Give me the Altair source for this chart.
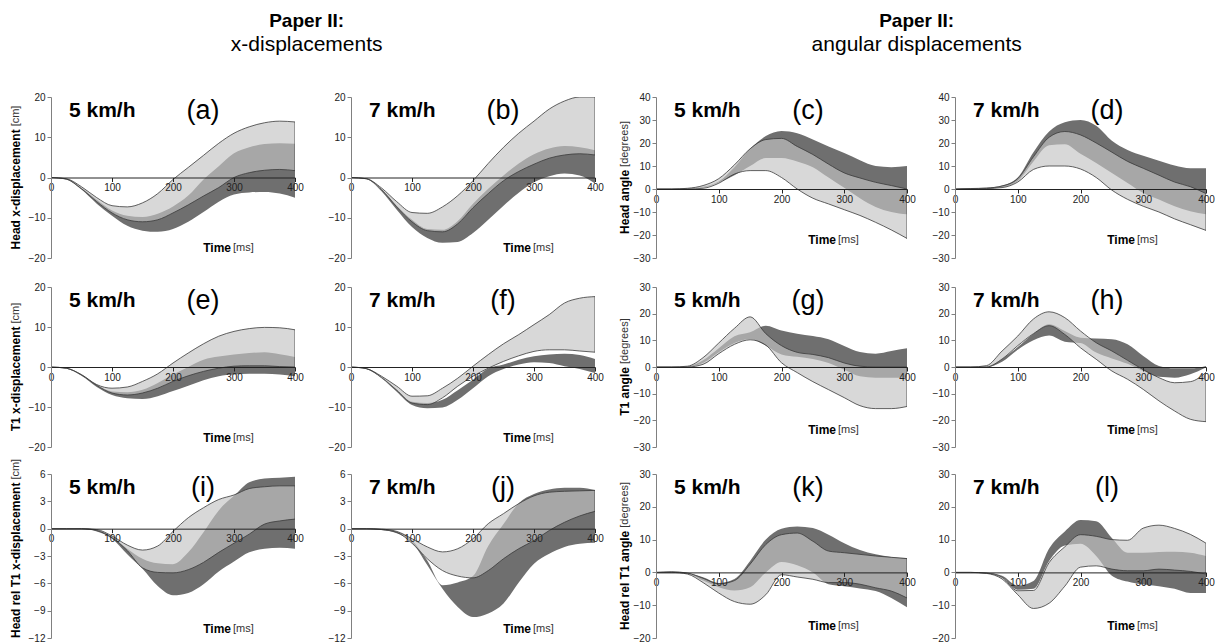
import altair as alt
import pandas as pd

FONT = "Liberation Sans"
DARK = "#6f6f6f"
LIGHT = "#c4c4c4"
EDGE = "#3a3a3a"

TIME = [0, 25, 50, 75, 100, 125, 150, 175, 200, 225, 250, 275, 300, 325, 350, 375, 400]
X_TICKS = [0, 100, 200, 300, 400]
TICKS_CM = [-20, -10, 0, 10, 20]
TICKS_REL_CM = [-12, -9, -6, -3, 0, 3, 6]
TICKS_DEG_1 = [-30, -20, -10, 0, 10, 20, 30, 40]
TICKS_DEG_2 = [-30, -20, -10, 0, 10, 20, 30]
TICKS_DEG_3 = [-20, -10, 0, 10, 20, 30]

SPEEDS = ["5 km/h", "7 km/h"]
TAGS = ["(a)", "(b)", "(c)", "(d)", "(e)", "(f)", "(g)", "(h)", "(i)", "(j)", "(k)", "(l)"]
HEAD_TITLES = ["Paper II:", "Paper II:"]
SUB_TITLES = ["x-displacements", "angular displacements"]
Y_TITLES_BOLD = ["Head x-displacement", "T1 x-displacement", "Head rel T1 x-displacement",
                 "Head angle", "T1 angle", "Head rel T1 angle"]
Y_TITLES_UNIT = ["[cm]", "[cm]", "[cm]", "[degrees]", "[degrees]", "[degrees]"]
TIME_BOLD = "Time"
TIME_UNIT = "[ms]"

# (a) Head x, 5 km/h
LIGHT_HI_A = [0, -0.3, -2.3, -5.0, -7.0, -7.3, -6.3, -4.0, -0.5, 2.5, 5.5, 8.5, 11.0, 12.6, 13.6, 14.0, 13.8]
LIGHT_LO_A = [0, -0.4, -2.8, -6.0, -8.8, -10.5, -11.0, -10.5, -8.8, -6.8, -4.6, -2.5, 0.0, 1.2, 1.8, 2.0, 1.7]
DARK_HI_A = [0, -0.4, -2.6, -5.5, -8.2, -9.5, -9.8, -9.0, -7.2, -4.5, -0.5, 2.8, 6.0, 7.5, 8.3, 8.5, 8.4]
DARK_LO_A = [0, -0.5, -3.0, -6.5, -9.5, -12.0, -13.2, -13.5, -12.8, -11.0, -8.6, -6.0, -4.2, -3.7, -3.6, -4.0, -5.0]
# (b) Head x, 7 km/h
LIGHT_HI_B = [0, -0.3, -2.6, -6.0, -8.7, -8.9, -7.3, -4.5, -0.8, 3.5, 7.5, 11.0, 14.0, 17.0, 19.0, 20.0, 20.0]
LIGHT_LO_B = [0, -0.3, -3.0, -7.3, -11.0, -13.2, -13.5, -11.5, -7.5, -4.0, -0.8, 1.5, 3.3, 4.8, 5.6, 5.9, 5.6]
DARK_HI_B = [0, -0.3, -3.0, -7.0, -10.5, -12.8, -13.0, -10.8, -6.5, -2.8, 0.5, 3.5, 5.8, 7.2, 7.8, 7.5, 6.8]
DARK_LO_B = [0, -0.4, -3.4, -8.0, -12.3, -15.0, -16.2, -16.0, -13.8, -10.5, -7.0, -3.8, -1.2, 0.3, 1.0, 0.5, -1.5]
# (c) Head angle, 5 km/h
LIGHT_HI_C = [0, 0, 0.3, 1.5, 4.5, 10.5, 17.5, 21.5, 22.0, 18.5, 15.0, 10.8, 7.0, 4.8, 2.9, 1.5, 0.0]
LIGHT_LO_C = [0, 0, 0, 0.3, 2.5, 6.5, 8.0, 8.0, 5.0, 0.0, -4.0, -6.5, -9.0, -11.5, -14.5, -17.8, -21.5]
DARK_HI_C = [0, 0, 0.2, 1.0, 3.3, 9.5, 17.5, 23.0, 25.2, 24.2, 21.5, 18.5, 15.6, 12.5, 10.0, 9.5, 10.0]
DARK_LO_C = [0, 0, 0.1, 0.6, 2.8, 6.0, 10.0, 13.5, 13.5, 12.0, 9.5, 5.0, 0.5, -4.0, -7.8, -10.0, -11.0]
# (d) Head angle, 7 km/h
LIGHT_HI_D = [0, 0.2, 0.4, 1.3, 4.5, 14.0, 22.5, 25.0, 23.5, 20.0, 16.0, 12.0, 9.0, 6.0, 3.0, 1.0, -2.0]
LIGHT_LO_D = [0, 0, 0.2, 0.6, 3.0, 8.5, 10.0, 10.0, 8.7, 5.0, -0.5, -4.5, -7.5, -10.0, -13.0, -15.5, -18.0]
DARK_HI_D = [0, 0.3, 0.5, 1.5, 5.0, 16.0, 25.0, 29.0, 30.0, 27.5, 21.0, 17.0, 14.5, 12.3, 10.2, 9.0, 9.0]
DARK_LO_D = [0, 0, 0.2, 0.8, 3.5, 12.0, 19.0, 19.5, 15.3, 11.3, 7.0, 2.6, -1.7, -4.6, -7.5, -9.7, -11.0]
# (e) T1 x, 5 km/h
LIGHT_HI_E = [0, -0.3, -1.9, -4.4, -5.3, -5.0, -3.6, -1.7, 1.0, 3.5, 5.8, 7.7, 8.9, 9.6, 9.9, 9.8, 9.3]
LIGHT_LO_E = [0, -0.3, -2.0, -4.6, -6.5, -7.0, -6.5, -5.3, -3.6, -2.2, -1.1, -0.3, 0.2, 0.3, 0.3, 0.1, 0.0]
DARK_HI_E = [0, -0.3, -2.0, -4.5, -6.1, -6.3, -5.7, -4.0, -1.9, 0.0, 1.8, 2.6, 3.1, 3.5, 3.7, 3.2, 2.5]
DARK_LO_E = [0, -0.4, -2.2, -5.0, -7.0, -7.8, -8.0, -7.3, -6.0, -4.7, -3.3, -2.3, -1.9, -1.7, -1.7, -1.9, -2.3]
# (f) T1 x, 7 km/h
LIGHT_HI_F = [0, -0.4, -2.3, -4.8, -7.3, -7.2, -5.3, -2.8, 0.2, 3.1, 5.8, 8.1, 10.6, 13.1, 16.0, 17.2, 17.6]
LIGHT_LO_F = [0, -0.4, -2.6, -5.8, -9.0, -9.4, -7.7, -4.8, -2.3, -0.3, 1.4, 2.8, 3.9, 4.3, 4.3, 4.0, 3.7]
DARK_HI_F = [0, -0.4, -2.6, -5.7, -8.7, -9.0, -8.2, -5.8, -3.2, -0.4, 0.6, 1.8, 2.7, 3.1, 3.3, 3.0, 2.0]
DARK_LO_F = [0, -0.5, -2.8, -6.2, -9.5, -10.3, -10.1, -8.2, -5.3, -2.3, -0.5, 0.6, 1.2, 1.0, 0.2, -0.5, -1.5]
# (g) T1 angle, 5 km/h
LIGHT_HI_G = [0, 0, 0.3, 3.5, 9.0, 14.5, 18.8, 12.5, 8.0, 5.5, 4.7, 3.5, 1.5, 0.3, 0.0, 0.0, 0.0]
LIGHT_LO_G = [0, 0, 0, 1.0, 5.0, 8.5, 10.2, 8.2, 1.6, -2.1, -5.5, -8.5, -11.5, -14.5, -15.6, -15.6, -14.8]
DARK_HI_G = [0, 0, 0.2, 2.5, 7.0, 11.5, 13.0, 15.5, 13.7, 12.5, 11.6, 10.4, 7.9, 5.6, 5.0, 6.0, 7.0]
DARK_LO_G = [0, 0, 0.1, 1.5, 5.5, 9.0, 10.5, 8.0, 4.7, 3.8, 3.0, 1.5, -1.0, -3.5, -4.0, -4.0, -4.0]
# (h) T1 angle, 7 km/h
LIGHT_HI_H = [0, 0, 0.5, 6.0, 11.6, 18.0, 20.7, 18.5, 13.5, 9.1, 6.0, 2.5, -1.0, -4.0, -5.9, -5.5, -2.0]
LIGHT_LO_H = [0, 0, 0, 3.0, 8.0, 12.5, 15.5, 12.2, 7.2, 2.9, -1.5, -4.6, -8.4, -12.7, -16.5, -19.6, -20.5]
DARK_HI_H = [0, 0, 0.2, 3.0, 7.5, 12.5, 16.0, 13.5, 11.0, 10.7, 10.4, 8.5, 4.1, 0.4, -0.5, -0.5, 0.4]
DARK_LO_H = [0, 0, 0, 2.0, 6.5, 10.0, 11.8, 9.5, 9.0, 5.4, 3.2, 1.2, -1.5, -3.7, -4.0, -2.7, -0.2]
# (i) Head rel T1 x, 5 km/h
LIGHT_HI_I = [0, 0, 0, -0.1, -0.8, -1.8, -2.35, -1.9, -0.3, 1.2, 2.3, 3.2, 3.7, 4.4, 4.6, 4.7, 4.7]
LIGHT_LO_I = [0, 0, 0, -0.2, -1.0, -2.4, -4.3, -4.8, -4.85, -4.5, -3.7, -2.6, -1.6, -0.6, 0.5, 0.85, 1.05]
DARK_HI_I = [0, 0, 0, -0.15, -0.9, -2.2, -3.3, -3.8, -3.9, -2.6, -0.4, 2.0, 3.6, 5.1, 5.5, 5.6, 5.7]
DARK_LO_I = [0, 0, -0.05, -0.3, -1.1, -2.8, -4.4, -6.3, -7.3, -7.05, -6.1, -4.7, -3.6, -2.6, -2.2, -2.1, -2.2]
# (j) Head rel T1 x, 7 km/h
LIGHT_HI_J = [0, 0, -0.05, -0.3, -1.1, -2.0, -2.55, -2.2, -1.1, 0.55, 1.65, 2.75, 3.6, 4.0, 4.1, 4.15, 4.2]
LIGHT_LO_J = [0, 0, -0.1, -0.4, -1.6, -3.3, -4.6, -5.2, -5.4, -4.6, -3.3, -2.2, -1.3, -0.2, 0.7, 1.4, 1.9]
DARK_HI_J = [0, 0, -0.1, -0.35, -1.3, -3.5, -6.2, -5.9, -5.2, -1.9, 0.5, 2.8, 3.8, 4.3, 4.5, 4.5, 4.25]
DARK_LO_J = [0, 0, -0.15, -0.5, -1.5, -4.0, -6.6, -8.6, -9.7, -9.3, -8.2, -5.9, -3.85, -2.75, -2.0, -1.65, -1.55]
# (k) Head rel T1 angle, 5 km/h
LIGHT_HI_K = [0, 0.2, -0.2, -1.8, -3.5, -2.5, 2.5, 8.5, 11.5, 12.0, 9.5, 6.5, 6.0, 5.5, 5.0, 4.6, 4.2]
LIGHT_LO_K = [0, 0, -0.5, -3.1, -6.3, -8.9, -9.7, -6.8, -0.7, -1.4, -2.1, -3.1, -3.1, -3.6, -4.7, -5.7, -7.8]
DARK_HI_K = [0, 0.2, -0.2, -1.5, -3.2, -2.0, 3.5, 10.0, 13.3, 14.0, 13.5, 11.5, 8.9, 6.8, 5.5, 4.7, 4.4]
DARK_LO_K = [0, 0, -0.3, -2.5, -4.5, -5.5, -4.5, 0.0, 3.2, 2.2, 0.0, -3.6, -4.2, -4.9, -5.7, -7.8, -10.6]
# (l) Head rel T1 angle, 7 km/h
LIGHT_HI_L = [0, 0, -0.2, -1.5, -5.6, -5.5, 3.0, 7.8, 11.5, 11.0, 10.0, 9.8, 13.5, 14.4, 13.4, 11.6, 8.9]
LIGHT_LO_L = [0, 0, -0.3, -2.0, -6.8, -11.0, -9.4, -4.2, 1.6, 2.0, 1.0, 0.5, 0.5, 1.0, 0.7, 0.3, -0.5]
DARK_HI_L = [0, 0, -0.1, -1.0, -4.0, -2.6, 7.3, 12.5, 16.0, 15.6, 10.5, 6.0, 6.0, 6.2, 6.3, 6.0, 5.0]
DARK_LO_L = [0, 0, -0.2, -1.5, -5.3, -5.0, 3.5, 8.2, 8.7, 5.0, -1.0, -2.8, -3.7, -4.2, -5.0, -6.3, -6.3]

# Arial-compatible advance widths (per 1000 em) for the rotated titles
W_REG = {" ": 278, "[": 278, "]": 278, "c": 500, "m": 833, "d": 556, "e": 556, "g": 556, "r": 333, "s": 500}
W_BOLD = {" ": 278, "H": 722, "e": 556, "a": 556, "d": 611, "x": 556, "-": 333, "i": 278, "s": 556,
          "p": 611, "l": 278, "c": 556, "m": 889, "n": 611, "t": 333, "T": 611, "1": 556, "r": 389, "g": 611}


def text_width(s, size, bold):
    table = W_BOLD if bold else W_REG
    return sum(table.get(ch, 556) for ch in s) * size / 1000.0


ANNOT = pd.DataFrame({"k": [0]})


def txt(text, x, y, size, weight="normal", align="left", angle=0, color="black"):
    return alt.Chart(ANNOT).mark_text(
        text=text, font=FONT, fontSize=size, fontWeight=weight, align=align,
        baseline="middle", angle=angle, color=color
    ).encode(x=alt.value(x), y=alt.value(y))


def panel(lhi, llo, dhi, dlo, ydom, yticks, w, h, speed, tag, title_idx, title_x, time_y):
    df = pd.DataFrame({"t": TIME, "lhi": lhi, "llo": llo, "dhi": dhi, "dlo": dlo})
    zero_from_bottom = (0 - ydom[0]) / (ydom[1] - ydom[0]) * h
    xs = alt.Scale(domain=[0, 400], nice=False, zero=False)
    ys = alt.Scale(domain=list(ydom), nice=False, zero=False)
    xax = alt.Axis(values=X_TICKS, title=None, grid=False, offset=-zero_from_bottom,
                   domainColor="#222222", tickColor="#222222", tickSize=4,
                   labelFontSize=10, labelFont=FONT, labelColor="#222222", labelPadding=1,
                   labelFlush=False, labelOverlap=False, zindex=1)
    yax = alt.Axis(values=yticks, title=None, grid=False, domainColor="#808080",
                   tickColor="#808080", tickSize=4, labelFontSize=10, labelFont=FONT,
                   labelColor="#222222", labelPadding=2, zindex=1)
    base = alt.Chart(df)
    dark = base.mark_area(fill=DARK, interpolate="monotone", clip=True).encode(
        x=alt.X("t:Q", scale=xs, axis=xax),
        y=alt.Y("dhi:Q", scale=ys, axis=yax),
        y2="dlo:Q",
    )
    light = base.mark_area(fill=LIGHT, fillOpacity=0.66, stroke=EDGE, strokeWidth=0.8,
                           interpolate="monotone", clip=True).encode(
        x=alt.X("t:Q", scale=xs, axis=xax),
        y=alt.Y("lhi:Q", scale=ys, axis=yax),
        y2="llo:Q",
    )
    layers = [dark, light,
              txt(speed, 18, 14, 21, weight="bold"),
              txt(tag, 152, 14, 27, align="center"),
              txt(TIME_BOLD, 180, time_y, 12, weight="bold", align="right"),
              txt(TIME_UNIT, 182, time_y, 11, color="#333333")]
    if title_idx is not None:
        bold = Y_TITLES_BOLD[title_idx]
        unit = Y_TITLES_UNIT[title_idx]
        wb = text_width(bold, 12, True)
        wn = text_width(unit, 11, False)
        gap = 3
        total = wb + gap + wn
        bottom = min(h / 2 + total / 2, h)
        split = bottom - wb
        layers.append(txt(bold, title_x, split, 12, weight="bold", align="right", angle=270))
        layers.append(txt(unit, title_x, split - gap, 11, align="left", angle=270, color="#333333"))
    return alt.layer(*layers).properties(width=w, height=h)


W12, W34 = 244, 251
H1, H2, H3 = 161, 160, 164

pa = panel(LIGHT_HI_A, LIGHT_LO_A, DARK_HI_A, DARK_LO_A, (-20, 20), TICKS_CM, W12, H1, SPEEDS[0], TAGS[0], 0, -35, 151)
pb = panel(LIGHT_HI_B, LIGHT_LO_B, DARK_HI_B, DARK_LO_B, (-20, 20), TICKS_CM, W12, H1, SPEEDS[1], TAGS[1], None, 0, 151)
pc = panel(LIGHT_HI_C, LIGHT_LO_C, DARK_HI_C, DARK_LO_C, (-30, 40), TICKS_DEG_1, W34, H1, SPEEDS[0], TAGS[2], 3, -31, 143)
pd_ = panel(LIGHT_HI_D, LIGHT_LO_D, DARK_HI_D, DARK_LO_D, (-30, 40), TICKS_DEG_1, W34, H1, SPEEDS[1], TAGS[3], None, 0, 143)
pe = panel(LIGHT_HI_E, LIGHT_LO_E, DARK_HI_E, DARK_LO_E, (-20, 20), TICKS_CM, W12, H2, SPEEDS[0], TAGS[4], 1, -35, 151)
pf = panel(LIGHT_HI_F, LIGHT_LO_F, DARK_HI_F, DARK_LO_F, (-20, 20), TICKS_CM, W12, H2, SPEEDS[1], TAGS[5], None, 0, 151)
pg = panel(LIGHT_HI_G, LIGHT_LO_G, DARK_HI_G, DARK_LO_G, (-30, 30), TICKS_DEG_2, W34, H2, SPEEDS[0], TAGS[6], 4, -31, 143)
ph = panel(LIGHT_HI_H, LIGHT_LO_H, DARK_HI_H, DARK_LO_H, (-30, 30), TICKS_DEG_2, W34, H2, SPEEDS[1], TAGS[7], None, 0, 143)
pi = panel(LIGHT_HI_I, LIGHT_LO_I, DARK_HI_I, DARK_LO_I, (-12, 6), TICKS_REL_CM, W12, H3, SPEEDS[0], TAGS[8], 2, -35, 155)
pj = panel(LIGHT_HI_J, LIGHT_LO_J, DARK_HI_J, DARK_LO_J, (-12, 6), TICKS_REL_CM, W12, H3, SPEEDS[1], TAGS[9], None, 0, 155)
pk = panel(LIGHT_HI_K, LIGHT_LO_K, DARK_HI_K, DARK_LO_K, (-20, 30), TICKS_DEG_3, W34, H3, SPEEDS[0], TAGS[10], 5, -31, 152)
pl = panel(LIGHT_HI_L, LIGHT_LO_L, DARK_HI_L, DARK_LO_L, (-20, 30), TICKS_DEG_3, W34, H3, SPEEDS[1], TAGS[11], None, 0, 152)


def block_title(i):
    return alt.TitleParams(text=HEAD_TITLES[i], subtitle=SUB_TITLES[i], font=FONT, fontSize=19,
                           fontWeight="bold", color="black", subtitleFont=FONT, subtitleFontSize=21,
                           subtitleFontWeight="normal", subtitleColor="black", subtitlePadding=3,
                           anchor="middle", offset=37)


left = alt.vconcat(
    alt.vconcat(alt.hconcat(pa, pb, spacing=24), alt.hconcat(pe, pf, spacing=24), spacing=19),
    alt.hconcat(pi, pj, spacing=24),
    spacing=6, title=block_title(0),
)
right = alt.vconcat(
    alt.vconcat(alt.hconcat(pc, pd_, spacing=16), alt.hconcat(pg, ph, spacing=16), spacing=19),
    alt.hconcat(pk, pl, spacing=16),
    spacing=17, title=block_title(1),
)

chart = alt.hconcat(left, right, spacing=14).properties(
    padding={"left": 9, "top": 12, "right": 0, "bottom": 0},
    background="white",
).configure_view(stroke=None)

chart.save("out.html", embed_options={"renderer": "svg", "actions": False})
